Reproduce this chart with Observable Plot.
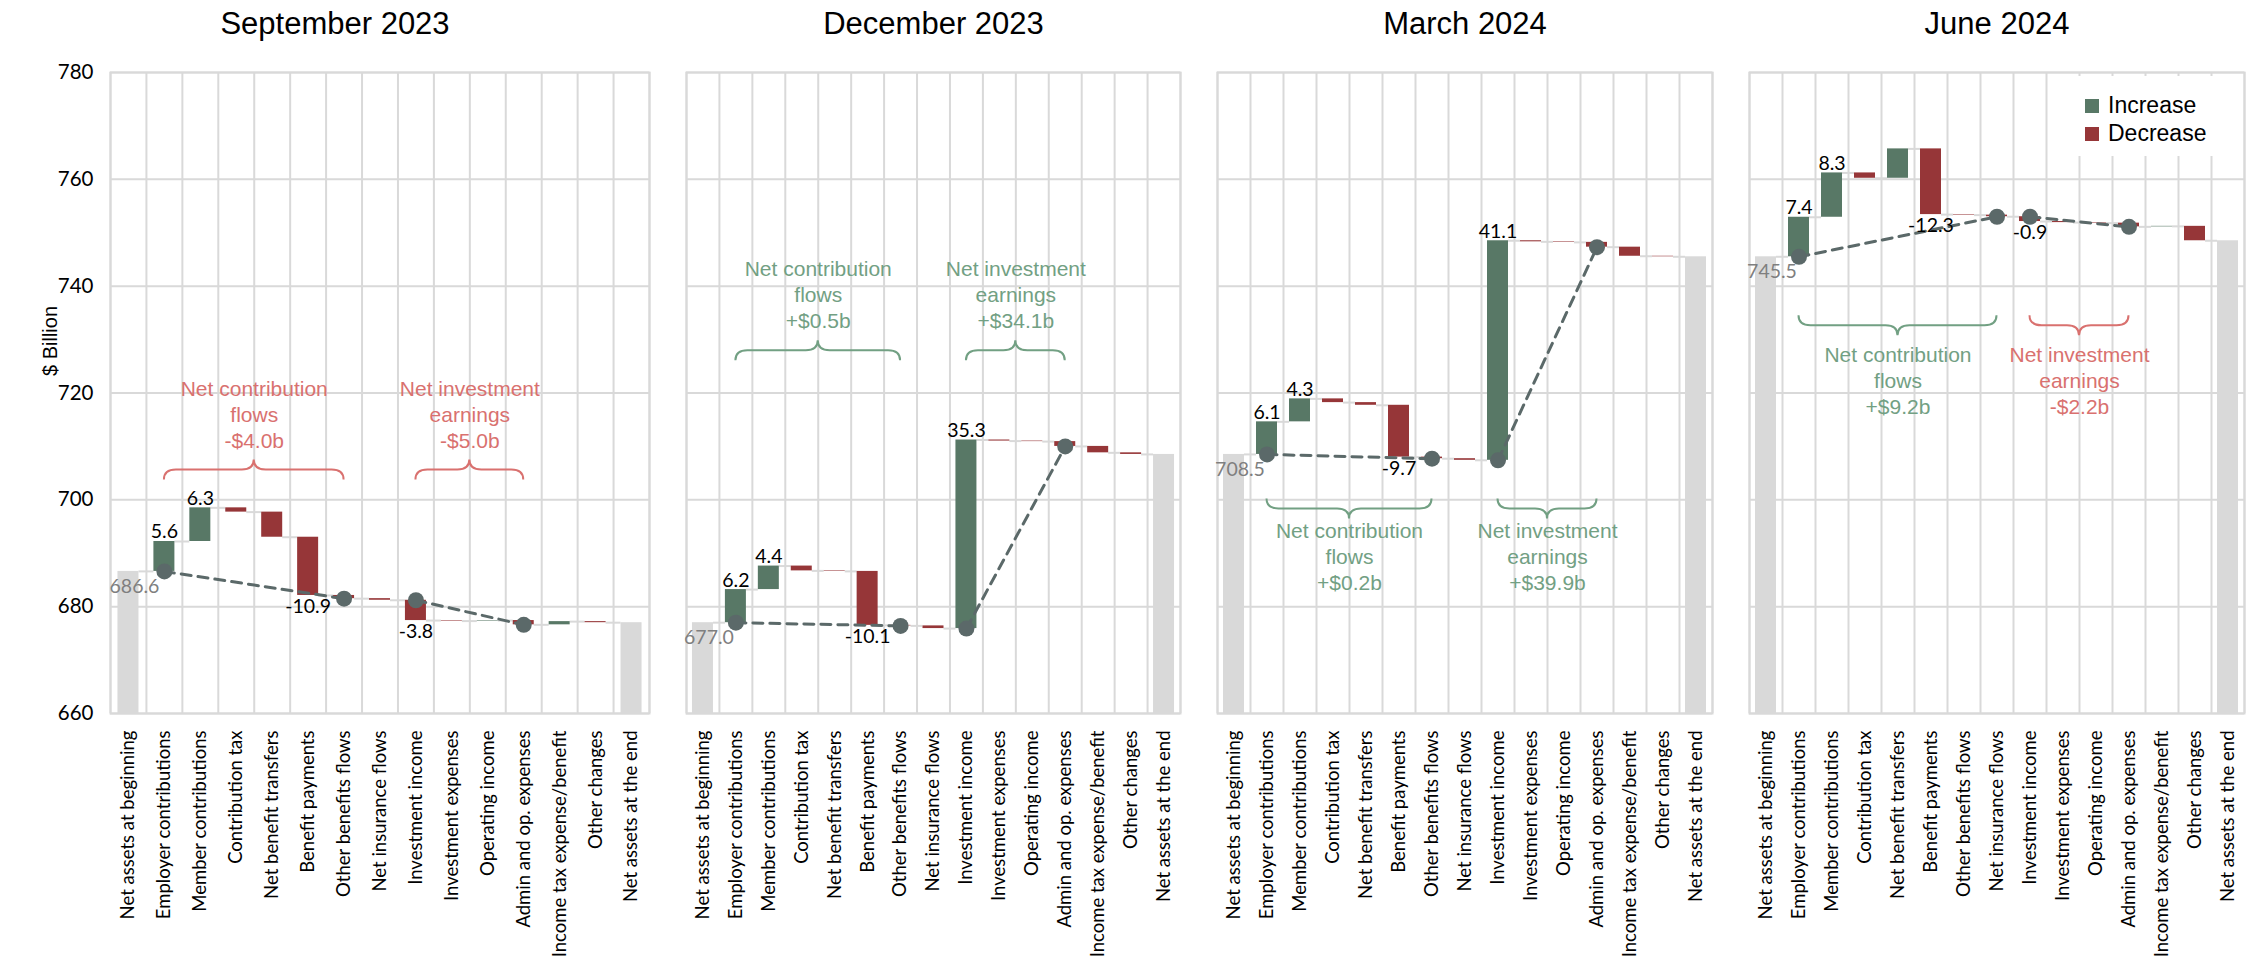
<!DOCTYPE html>
<html>
<head>
<meta charset="utf-8">
<script src="https://cdn.jsdelivr.net/npm/d3@7"></script>
<script src="https://cdn.jsdelivr.net/npm/@observablehq/plot@0.6"></script>
<style>
  body { margin: 0; background: #fff; }
  #chart { position: relative; width: 2254px; height: 977px; background: #fff; }
  #chart svg { position: absolute; top: 0; }
  .legend {
    position: absolute; left: 2077px; top: 76px; width: 163px; height: 80px;
    background: #fff; font-family: "Liberation Sans", Arial, sans-serif; font-size: 23px; color: #000;
  }
  .legend div { position: absolute; left: 8px; display: flex; align-items: center; line-height: 1; }
  .legend span.swatch { display: inline-block; width: 14px; height: 14px; margin-right: 9px; }
</style>
</head>
<body>
<div id="chart"></div>
<script>
// ---- Data ($ billion) ----
const categories = [
  "Net assets at beginning", "Employer contributions", "Member contributions", "Contribution tax",
  "Net benefit transfers", "Benefit payments", "Other benefits flows", "Net insurance flows",
  "Investment income", "Investment expenses", "Operating income", "Admin and op. expenses",
  "Income tax expense/benefit", "Other changes", "Net assets at the end"
];
const quarters = ["September 2023", "December 2023", "March 2024", "June 2024"];
const openingAssets = [686.6, 677.0, 708.5, 745.5];

// Flows for "Employer contributions" through "Other changes", one list per quarter
const flowsSep2023 = [5.6, 6.3, -0.8, -4.7, -10.9, -0.6, -0.3, -3.8, -0.1, 0.1, -0.8, 0.6, -0.2];
const flowsDec2023 = [6.2, 4.4, -0.9, -0.1, -10.1, -0.1, -0.5, 35.3, -0.2, -0.1, -0.9, -1.2, -0.3];
const flowsMar2024 = [6.1, 4.3, -0.7, -0.5, -9.7, -0.3, -0.3, 41.1, -0.2, -0.1, -0.9, -1.7, -0.1];
const flowsJun2024 = [7.4, 8.3, -1.0, 5.5, -12.3, -0.1, -0.3, -0.9, -0.2, -0.1, -0.7, 0.1, -2.7];
const quarterFlows = [flowsSep2023, flowsDec2023, flowsMar2024, flowsJun2024];

// Categories whose change is printed on the bar
const labelledCategories = ["Employer contributions", "Member contributions", "Benefit payments", "Investment income"];

// Group spans (first and last category) and their headline totals
const contributionSpans = [
  ["Employer contributions", "Other benefits flows"],
  ["Employer contributions", "Other benefits flows"],
  ["Employer contributions", "Other benefits flows"],
  ["Employer contributions", "Net insurance flows"]
];
const investmentSpans = [
  ["Investment income", "Admin and op. expenses"],
  ["Investment income", "Admin and op. expenses"],
  ["Investment income", "Admin and op. expenses"],
  ["Investment income", "Admin and op. expenses"]
];
const contributionTotals = ["-$4.0b", "+$0.5b", "+$0.2b", "+$9.2b"];
const investmentTotals = ["-$5.0b", "+$34.1b", "+$39.9b", "-$2.2b"];

// ---- Styling / layout ----
const GREEN = "#587866", RED = "#963638", GREY_BAR = "#d9d9d9", GRID = "#d9d9d9";
const DOT = "#5b6969", NOTE_GREEN = "#72a083", NOTE_RED = "#d9716f";
const HEIGHT = 977, TOP = 72, BOTTOM = 713;
const panels = [
  {left: 0, width: 668, plotLeft: 110, plotRight: 649, titleDx: -45},
  {left: 668, width: 531, plotLeft: 686, plotRight: 1180, titleDx: 0},
  {left: 1199, width: 531, plotLeft: 1217, plotRight: 1712, titleDx: 0},
  {left: 1730, width: 524, plotLeft: 1749, plotRight: 2244, titleDx: 0}
];
// Brace placement per quarter: side of the text, brace level ($b), text offset (px)
const noteLayout = [
  {side: "above", level: 705.6, offset: 56},
  {side: "above", level: 727.9, offset: 57},
  {side: "below", level: 698.3, offset: 47},
  {side: "below", level: 732.6, offset: 54}
];
const yTicks = d3.range(660, 781, 20);
const idx = (name) => categories.indexOf(name) + 1;
const LABEL_FONT = "Lato, 'Open Sans', sans-serif";
const ARIAL = "'Liberation Sans', Arial, sans-serif";

function bracePath(x1, x2, y, s) {
  const r = 12, t = 10 * s, c = 10 * s, xm = (x1 + x2) / 2;
  return `M${x1},${y + t}Q${x1},${y} ${x1 + r},${y}L${xm - r},${y}Q${xm},${y} ${xm},${y - c}` +
         `Q${xm},${y} ${xm + r},${y}L${x2 - r},${y}Q${x2},${y} ${x2},${y + t}`;
}

const chart = document.getElementById("chart");

quarters.forEach((quarter, q) => {
  const p = panels[q];
  const bandPx = (p.plotRight - p.plotLeft) / categories.length;
  const hw = 10.5 / bandPx; // half bar width in category units

  // Running totals for the waterfall
  let level = openingAssets[q];
  const steps = quarterFlows[q].map((value, j) => {
    const i = j + 2;
    const start = level;
    const end = Math.round((level + value) * 10) / 10;
    level = end;
    return {i, category: categories[i - 1], value, start, end};
  });
  const closing = level;
  const totals = [
    {i: 1, value: openingAssets[q]},
    {i: categories.length, value: closing}
  ];
  const levels = [{i: 1, end: openingAssets[q]}, ...steps, {i: categories.length, end: closing}];
  const connectors = levels.slice(0, -1).map((d, k) => ({
    from: d.i + hw, to: levels[k + 1].i - hw, y: d.end
  }));
  const byName = (name) => steps.find((s) => s.category === name);

  // Group markers: start of each group and end of each group
  const spans = [
    {group: "contribution", span: contributionSpans[q], total: contributionTotals[q], title: "Net contribution\nflows"},
    {group: "investment", span: investmentSpans[q], total: investmentTotals[q], title: "Net investment\nearnings"}
  ];
  const dots = spans.flatMap(({group, span}) => [
    {group, x: idx(span[0]), y: byName(span[0]).start},
    {group, x: idx(span[1]), y: byName(span[1]).end}
  ]);
  const layout = noteLayout[q];
  const sgn = layout.side === "above" ? 1 : -1;
  const notes = spans.map(({span, total, title}) => ({
    from: idx(span[0]), to: idx(span[1]),
    mid: (idx(span[0]) + idx(span[1])) / 2,
    level: layout.level,
    text: `${title}\n${total}`,
    color: total.startsWith("-") ? NOTE_RED : NOTE_GREEN
  }));
  const labelled = steps.filter((s) => labelledCategories.includes(s.category));

  const braces = (index, scales) => {
    const g = d3.create("svg:g").attr("fill", "none").attr("stroke-width", 2);
    for (const n of notes) {
      g.append("path")
        .attr("stroke", n.color)
        .attr("d", bracePath(scales.x(n.from), scales.x(n.to), scales.y(n.level), sgn));
    }
    return g.node();
  };

  const marks = [
    Plot.gridY(yTicks, {stroke: GRID, strokeOpacity: 1, strokeWidth: 2}),
    Plot.ruleX(d3.range(categories.length + 1), {x: (d) => d + 0.5, stroke: GRID, strokeWidth: 2}),
    Plot.frame({stroke: GRID, strokeWidth: 2}),
    Plot.axisX(d3.range(1, categories.length + 1), {
      tickFormat: (i) => categories[i - 1], tickRotate: -90, tickSize: 0, tickPadding: 17,
      fontSize: 18.5, fontFamily: LABEL_FONT, fill: "#000", label: null
    }),
    Plot.rect(totals, {x1: (d) => d.i - hw, x2: (d) => d.i + hw, y1: 660, y2: "value", fill: GREY_BAR}),
    Plot.ruleY(connectors, {x1: "from", x2: "to", y: "y", stroke: GRID, strokeWidth: 2}),
    Plot.rect(steps, {
      x1: (d) => d.i - hw, x2: (d) => d.i + hw, y1: "start", y2: "end",
      fill: (d) => d.value > 0 ? GREEN : RED
    }),
    braces,
    Plot.text(notes, {
      x: "mid", y: "level", text: "text", fill: "color", lineAnchor: "middle",
      dy: -sgn * layout.offset, fontSize: 21, lineHeight: 1.24, fontFamily: ARIAL
    }),
    Plot.line(dots, {x: "x", y: "y", z: "group", stroke: DOT, strokeWidth: 3, strokeDasharray: "10,7"}),
    Plot.dot(dots, {x: "x", y: "y", r: 8, fill: DOT}),
    Plot.text(labelled.filter((d) => d.value > 0), {
      x: "i", y: "end", text: (d) => d.value.toFixed(1), lineAnchor: "bottom", dy: -3,
      fill: "#000", fontSize: 19.5, fontFamily: LABEL_FONT
    }),
    Plot.text(labelled.filter((d) => d.value < 0), {
      x: "i", y: "end", text: (d) => d.value.toFixed(1), lineAnchor: "top", dy: 4,
      fill: "#000", fontSize: 19.5, fontFamily: LABEL_FONT
    }),
    Plot.text([totals[0]], {
      x: "i", y: "value", text: (d) => d.value.toFixed(1), dx: 6, dy: 15,
      fill: "#7f7f7f", fontSize: 19.5, fontFamily: LABEL_FONT
    }),
    Plot.text([quarter], {
      frameAnchor: "top", lineAnchor: "middle", dy: -48, dx: p.titleDx,
      fontSize: 31, fill: "#000", fontFamily: ARIAL
    })
  ];

  if (q === 0) {
    marks.push(
      Plot.axisY(yTicks, {
        tickSize: 0, tickPadding: 17, fontSize: 20.5, fill: "#000", label: null, fontFamily: LABEL_FONT
      }),
      Plot.text(["$ Billion"], {
        frameAnchor: "left", textAnchor: "middle", lineAnchor: "middle", dx: -60, dy: -52,
        rotate: -90, fontSize: 20, fill: "#000", fontFamily: ARIAL
      })
    );
  }

  const svg = Plot.plot({
    width: p.width,
    height: HEIGHT,
    marginLeft: p.plotLeft - p.left,
    marginRight: p.left + p.width - p.plotRight,
    marginTop: TOP,
    marginBottom: HEIGHT - BOTTOM,
    x: {type: "linear", domain: [0.5, categories.length + 0.5], axis: null},
    y: {domain: [660, 780], axis: null},
    style: {fontFamily: "Lato, sans-serif", fontSize: "18px", color: "#000", background: "transparent", overflow: "visible"},
    marks
  });
  svg.style.left = `${p.left}px`;
  chart.appendChild(svg);
});

// Legend
const legend = document.createElement("div");
legend.className = "legend";
[["Increase", GREEN, 18], ["Decrease", RED, 46]].forEach(([name, color, top]) => {
  const row = document.createElement("div");
  row.style.top = `${top}px`;
  row.innerHTML = `<span class="swatch" style="background:${color}"></span><span>${name}</span>`;
  legend.appendChild(row);
});
chart.appendChild(legend);
</script>
</body>
</html>
